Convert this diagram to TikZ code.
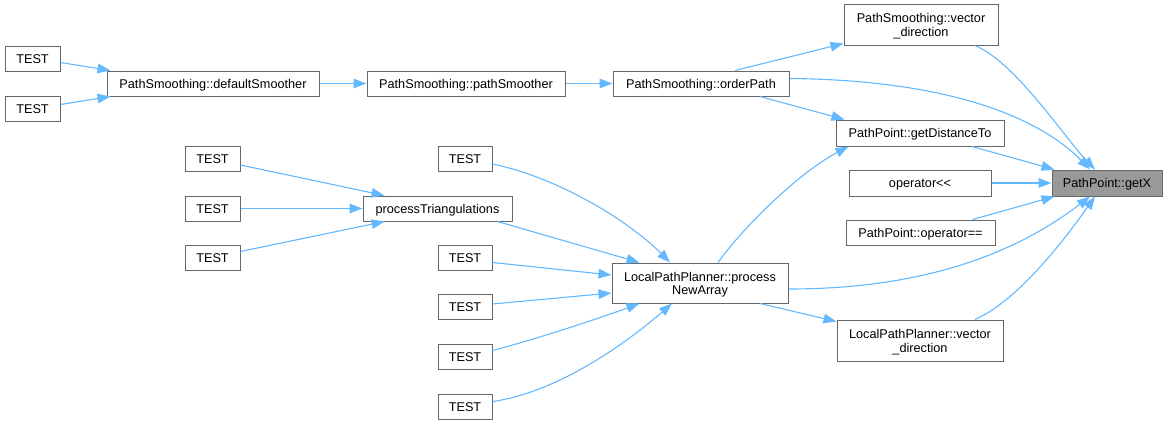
\documentclass[tikz,border=0pt]{standalone}
\usepackage{fontspec}
\setmainfont{Liberation Sans}
\usetikzlibrary{arrows.meta}
\definecolor{edgeblue}{HTML}{63B8FF}
\definecolor{boxgray}{HTML}{666666}
\definecolor{hlgray}{HTML}{999999}
\begin{document}
\begin{tikzpicture}[
  x=1pt,y=-1pt,
  fn/.style={draw=boxgray,fill=white,line width=1pt,inner sep=0pt,
    text height=9pt,text depth=0pt,font=\fontsize{12.7}{14}\selectfont},
  fn2/.style={draw=boxgray,fill=white,line width=1pt,inner sep=0pt,
    align=center,text height=23.4pt,text depth=0pt,font=\fontsize{12.7}{13.4}\selectfont},
  call/.style={draw=edgeblue,line width=1.1pt,-{Triangle[length=13pt,width=9.5pt]}}
]
  \useasboundingbox (0,0) rectangle (1170,424);
  % callers on the far left
  \node[fn,minimum width=55pt,minimum height=25pt] (t1) at (32.5,58.5) {TEST};
  \node[fn,minimum width=55pt,minimum height=25pt] (t2) at (32.5,108.5) {TEST};
  \node[fn,minimum width=212pt,minimum height=25pt] (defSm) at (213,83.5) {PathSmoothing::defaultSmoother};
  \node[fn,minimum width=198pt,minimum height=25pt] (pathSm) at (466,83.5) {PathSmoothing::pathSmoother};
  \node[fn,minimum width=176pt,minimum height=25pt] (ordPath) at (701,83.5) {PathSmoothing::orderPath};
  % tests of the triangulation
  \node[fn,minimum width=55pt,minimum height=25pt] (ta1) at (212.5,159) {TEST};
  \node[fn,minimum width=55pt,minimum height=25pt] (ta2) at (212.5,208.5) {TEST};
  \node[fn,minimum width=55pt,minimum height=25pt] (ta3) at (212.5,257.5) {TEST};
  \node[fn,minimum width=149pt,minimum height=25pt] (procTri) at (437.5,208.5) {processTriangulations};
  % tests of the local planner
  \node[fn,minimum width=54pt,minimum height=25pt] (tb1) at (465,159) {TEST};
  \node[fn,minimum width=54pt,minimum height=25pt] (tb2) at (465,257.5) {TEST};
  \node[fn,minimum width=54pt,minimum height=25pt] (tb3) at (465,307) {TEST};
  \node[fn,minimum width=54pt,minimum height=25pt] (tb4) at (465,356.5) {TEST};
  \node[fn,minimum width=54pt,minimum height=25pt] (tb5) at (465,406.5) {TEST};
  \node[fn2,minimum width=176pt,minimum height=40pt] (procNew) at (700,283) {LocalPathPlanner::process\\NewArray};
  % direct callers of getX
  \node[fn2,minimum width=154pt,minimum height=41pt] (psVec) at (921,24.5) {PathSmoothing::vector\\\_direction};
  \node[fn,minimum width=168pt,minimum height=26pt] (getDist) at (920,133) {PathPoint::getDistanceTo};
  \node[fn,minimum width=142pt,minimum height=26pt] (opOut) at (920,183) {operator<{}<};
  \node[fn,minimum width=149pt,minimum height=25pt] (opEq) at (920.5,232.5) {PathPoint::operator==};
  \node[fn2,minimum width=166pt,minimum height=41pt] (lppVec) at (920,340.5) {LocalPathPlanner::vector\\\_direction};
  \node[fn,fill=hlgray,minimum width=110pt,minimum height=26pt] (getX) at (1107,183) {PathPoint::getX};

  \draw[call] ([yshift=-4pt]t1.east) -- ([xshift=4pt]defSm.north west);
  \draw[call] ([yshift=4pt]t2.east) -- ([xshift=4pt]defSm.south west);
  \draw[call] (defSm) -- (pathSm);
  \draw[call] (pathSm) -- (ordPath);
  \draw[call] ([xshift=34pt]ordPath.north) -- ([yshift=2pt]psVec.south west);
  \draw[call] ([xshift=59pt]ordPath.south) -- ([xshift=9pt]getDist.north west);
  \draw[call] ([yshift=5pt]ordPath.east) .. controls (950,80) and (1040,118) .. ([xshift=-17pt]getX.north);
  \draw[call] ([xshift=54pt]psVec.south) .. controls (1015,62) and (1065,138) .. ([xshift=-12pt]getX.north);
  \draw[call] ([xshift=52pt]getDist.south) -- ([xshift=3pt]getX.north west);
  \draw[call] (opOut) -- (getX);
  \draw[call] ([xshift=52pt]opEq.north) -- ([xshift=3pt]getX.south west);
  \draw[call] ([yshift=-6pt]procNew.east) .. controls (930,289) and (1020,250) .. ([xshift=-17pt]getX.south);
  \draw[call] ([xshift=55pt]lppVec.north) .. controls (1020,300) and (1070,232) .. ([xshift=-12pt]getX.south);
  \draw[call] ([xshift=60pt]procNew.south) -- ([yshift=-2pt]lppVec.north west);
  \draw[call] ([xshift=18pt]procNew.north) .. controls (745,225) and (800,172) .. ([xshift=13pt]getDist.south west);
  % into processTriangulations
  \draw[call] ([yshift=-6pt]ta1.east) -- ([xshift=22pt]procTri.north west);
  \draw[call] (ta2) -- (procTri);
  \draw[call] ([yshift=6pt]ta3.east) -- ([xshift=22pt]procTri.south west);
  % into processNewArray
  \draw[call] ([xshift=60pt]procTri.south) -- ([xshift=28pt]procNew.north west);
  \draw[call] ([yshift=-5pt]tb1.east) .. controls (560,178) and (630,222) .. ([xshift=-30pt]procNew.north);
  \draw[call] ([yshift=-5pt]tb2.east) -- ([yshift=8pt]procNew.west);
  \draw[call] ([yshift=3pt]tb3.east) -- ([yshift=-10pt]procNew.west);
  \draw[call] ([yshift=6pt]tb4.east) .. controls (540,338) and (600,318) .. ([xshift=28pt]procNew.south west);
  \draw[call] ([yshift=5pt]tb5.east) .. controls (560,392) and (630,340) .. ([xshift=-28pt]procNew.south);
\end{tikzpicture}
\end{document}
